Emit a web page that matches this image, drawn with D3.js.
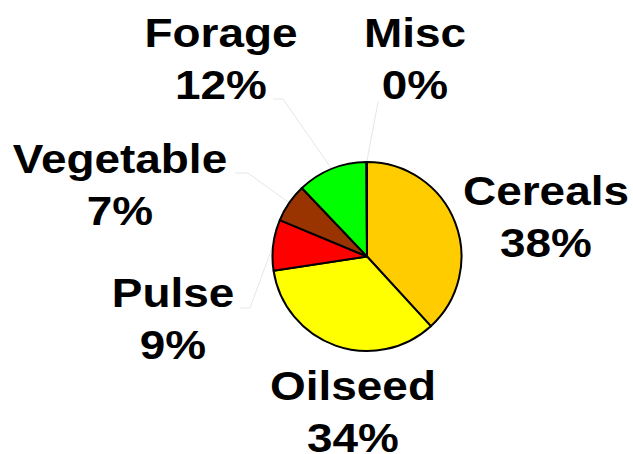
<!DOCTYPE html>
<html>
<head>
<meta charset="utf-8">
<script src="https://cdn.jsdelivr.net/npm/d3@7"></script>
<style>
  body { margin: 0; background: #fff; }
  text { font-family: "Liberation Sans", Arial, sans-serif; font-weight: bold; }
</style>
</head>
<body>
<div id="chart"></div>
<script>
// crop shares (percent), clockwise from 12 o'clock
const categories = ["Cereals", "Oilseed", "Pulse", "Vegetable", "Forage", "Misc"];
const shares = [38.2, 34.4, 8.7, 6.6, 12.0, 0.1];
const colours = ["#ffcc00", "#ffff00", "#ff0000", "#993300", "#00ff00", "#ffffff"];

const width = 633, height = 454;
const cx = 367, cy = 256.5, radius = 94.5;
const fontSize = 41, stretch = 1.12, lineGap = 52;

// where each label sits: centre x, first baseline, and the elbow of its leader line (if any)
const labelLayout = {
    Cereals:   {x: 546, y: 205},
    Oilseed:   {x: 353, y: 400},
    Pulse:     {x: 173, y: 307, elbow: [[240, 308], [250, 308]]},
    Vegetable: {x: 120, y: 173, elbow: [[235, 173], [248, 173]]},
    Forage:    {x: 221, y: 47,  elbow: [[273, 99], [283, 99]]},
    Misc:      {x: 415, y: 47,  elbow: [[378, 102]]}
};

const data = categories.map((c, i) => ({name: c, value: shares[i], colour: colours[i]}));
const total = d3.sum(shares);
const fmtPct = v => d3.format(".0f")(v / total * 100) + "%";

const svg = d3.select("#chart")
    .append("svg")
    .attr("width", width)
    .attr("height", height);

const pie = d3.pie().sort(null).value(d => d.value);
const arcs = pie(data);
const arc = d3.arc().innerRadius(0).outerRadius(radius);

// leader lines go first so the pie sits on top of them
const leaders = svg.append("g").attr("class", "leaders");
arcs.forEach(a => {
    const lay = labelLayout[a.data.name];
    if (!lay.elbow) return;
    const mid = (a.startAngle + a.endAngle) / 2;
    const end = [cx + radius * Math.sin(mid), cy - radius * Math.cos(mid)];
    leaders.append("path")
        .attr("d", d3.line()(lay.elbow.concat([end])))
        .attr("fill", "none")
        .attr("stroke", "#e6e6e6")
        .attr("stroke-width", 1);
});

const pieG = svg.append("g")
    .attr("transform", `translate(${cx},${cy})`);

pieG.selectAll("path")
    .data(arcs)
    .join("path")
    .attr("d", arc)
    .attr("fill", d => d.data.colour)
    .attr("stroke", "#000")
    .attr("stroke-width", 2)
    .attr("stroke-linejoin", "round");

// two-line labels: name over percentage
const labels = svg.append("g").selectAll("text")
    .data(arcs)
    .join("text")
    .attr("transform", d => {
        const lay = labelLayout[d.data.name];
        return `translate(${lay.x},${lay.y}) scale(${stretch},1)`;
    })
    .attr("text-anchor", "middle")
    .attr("font-size", fontSize)
    .attr("fill", "#000");

labels.append("tspan")
    .attr("x", 0)
    .attr("y", 0)
    .text(d => d.data.name);

labels.append("tspan")
    .attr("x", 0)
    .attr("y", lineGap)
    .text(d => fmtPct(d.data.value));
</script>
</body>
</html>
